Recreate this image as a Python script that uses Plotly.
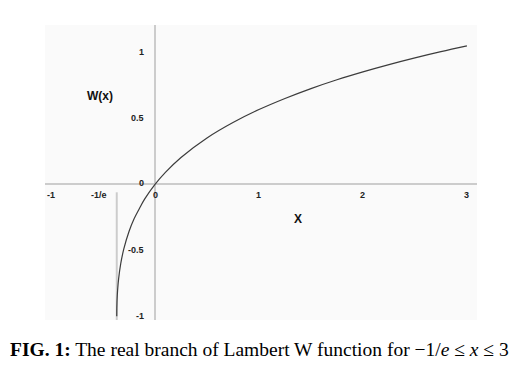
import plotly.graph_objects as go

# Values (principal real branch of W)
x_vals = [-0.3679, -0.3675, -0.367, -0.366, -0.365, -0.36, -0.35, -0.33, -0.3, -0.25,
          -0.2, -0.15, -0.1, 0.0, 0.1, 0.25, 0.5, 0.75, 1.0, 1.25, 1.5, 1.75, 2.0,
          2.25, 2.5, 2.75, 3.0]
w_vals = [-1.0, -0.956, -0.933, -0.902, -0.880, -0.806, -0.716, -0.603, -0.489, -0.357,
          -0.259, -0.183, -0.112, 0.0, 0.091, 0.204, 0.352, 0.469, 0.567, 0.651, 0.726,
          0.793, 0.853, 0.908, 0.959, 1.006, 1.050]

x_tick_vals = [-1, -0.3679, 0, 1, 2, 3]
x_tick_text = ["-1", "-1/e", "0", "1", "2", "3"]
y_tick_vals = [1, 0.5, 0, -0.5, -1]
y_tick_text = ["1", "0.5", "0", "-0.5", "-1"]

fig = go.Figure()
fig.add_trace(go.Scatter(x=x_vals, y=w_vals, mode="lines",
                         line=dict(color="#3c3c3c", width=1.2, shape="spline"),
                         hoverinfo="skip", showlegend=False))

# vertical guide at x = -1/e
fig.add_shape(type="line", xref="x", yref="y", x0=x_tick_vals[1], x1=x_tick_vals[1],
              y0=-0.06, y1=-1.03, line=dict(color="#cccccc", width=2), layer="below")

tick_font = dict(family="Liberation Sans", size=9, color="#222")
ann = []
for v, t in zip(x_tick_vals, x_tick_text):
    if t == "-1/e":
        ann.append(dict(x=v, y=0, text="<b>" + t + "</b>", showarrow=False, xanchor="right",
                        yanchor="middle", xshift=-8, yshift=-11, font=tick_font))
    else:
        ann.append(dict(x=v, y=0, text="<b>" + t + "</b>", showarrow=False, xanchor="center",
                        yanchor="middle", yshift=-11, font=tick_font))
for v, t in zip(y_tick_vals, y_tick_text):
    ann.append(dict(x=0, y=v, text="<b>" + t + "</b>", showarrow=False, xanchor="right",
                    yanchor="middle", xshift=-9, yshift=1 if v == 0 else 0, font=tick_font))

ann.append(dict(x=-0.53, y=0.67, text="<b>W(x)</b>", showarrow=False,
                font=dict(family="Liberation Sans", size=12, color="#111")))
ann.append(dict(x=1.38, y=0, text="<b>X</b>", showarrow=False, yshift=-35,
                font=dict(family="Liberation Sans", size=12, color="#111")))

ann.append(dict(xref="paper", yref="paper", x=0.4965, y=-0.101, xanchor="center",
                yanchor="middle",
                text="<b>FIG. 1:</b> The real branch of Lambert W function for \u22121/<i>e</i> \u2264 <i>x</i> \u2264 3",
                showarrow=False, font=dict(family="Liberation Serif", size=19.5, color="#000")))

fig.update_layout(
    annotations=ann,
    width=519, height=367,
    margin=dict(l=37, r=50, t=17, b=55),
    paper_bgcolor="white", plot_bgcolor="#fafafa",
    xaxis=dict(range=[-1.058, 3.097], showgrid=False, showticklabels=False, ticks="",
               zeroline=True, zerolinecolor="#cccccc", zerolinewidth=2, fixedrange=True),
    yaxis=dict(range=[-1.028, 1.208], showgrid=False, showticklabels=False, ticks="",
               zeroline=True, zerolinecolor="#cccccc", zerolinewidth=2, fixedrange=True),
)

fig.write_html("out.html")
